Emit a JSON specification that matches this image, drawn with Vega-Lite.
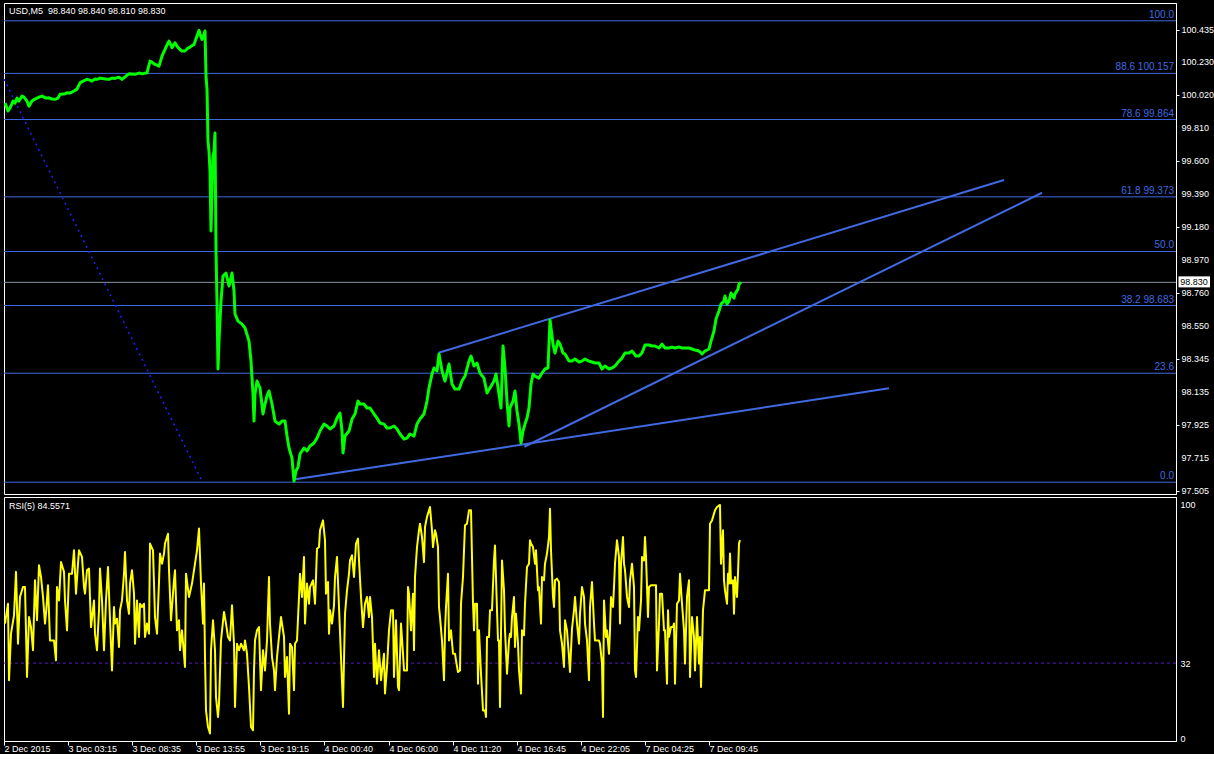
{
  "$schema": "https://vega.github.io/schema/vega-lite/v6.json",
  "background": "#000000",
  "padding": {"left": 2, "top": 2, "right": 0, "bottom": 0},
  "spacing": 3,
  "bounds": "flush",
  "config": {
    "font": "Liberation Sans",
    "view": {"stroke": "#ffffff", "strokeWidth": 1, "fill": "#000000"},
    "axis": {"domainColor": "#ffffff", "tickColor": "#ffffff", "labelColor": "#ffffff", "labelFont": "Liberation Sans", "labelFontSize": 9, "grid": false, "labelOverlap": false}
  },
  "datasets": {
    "fib": [
      {"p": 100.491, "label": "100.0"},
      {"p": 100.157, "label": "88.6 100.157"},
      {"p": 99.864, "label": "78.6 99.864"},
      {"p": 99.373, "label": "61.8 99.373"},
      {"p": 99.026, "label": "50.0"},
      {"p": 98.683, "label": "38.2 98.683"},
      {"p": 98.253, "label": "23.6"},
      {"p": 97.561, "label": "0.0"}
    ],
    "pticks": [
      {"p": 97.505}, {"p": 97.715}, {"p": 97.925}, {"p": 98.135}, {"p": 98.345}, {"p": 98.55}, {"p": 98.76}, {"p": 98.97},
      {"p": 99.18}, {"p": 99.39}, {"p": 99.6}, {"p": 99.81}, {"p": 100.02}, {"p": 100.23}, {"p": 100.435}
    ],
    "trend": [
      {"i": 291.3, "p": 97.579, "i2": 885, "p2": 98.157},
      {"i": 434.7, "p": 98.383, "i2": 1000, "p2": 99.48},
      {"i": 520.3, "p": 97.786, "i2": 1038, "p2": 99.399}
    ],
    "fibtrend": [{"i": 0, "p": 100.121, "i2": 198, "p2": 97.568}],
    "price": [
      {"i":1,"p":99.968},{"i":4,"p":99.918},{"i":6,"p":99.937},{"i":9,"p":99.981},{"i":11,"p":99.968},{"i":13,"p":100.0},{"i":15,"p":99.981},{"i":18,"p":100.013},{"i":20,"p":100.006},{"i":23,"p":99.981},{"i":25,"p":99.949},{"i":28,"p":99.981},{"i":31,"p":99.994},{"i":35,"p":100.006},{"i":38,"p":100.013},{"i":42,"p":100.0},{"i":45,"p":100.002},{"i":48,"p":99.994},{"i":51,"p":99.992},{"i":54,"p":100.0},{"i":56,"p":100.024},{"i":60,"p":100.026},{"i":63,"p":100.034},{"i":66,"p":100.032},{"i":70,"p":100.045},{"i":73,"p":100.057},{"i":76,"p":100.097},{"i":79,"p":100.108},{"i":83,"p":100.119},{"i":86,"p":100.114},{"i":88,"p":100.108},{"i":91,"p":100.121},{"i":93,"p":100.119},{"i":96,"p":100.127},{"i":98,"p":100.125},{"i":102,"p":100.121},{"i":105,"p":100.119},{"i":108,"p":100.127},{"i":111,"p":100.125},{"i":115,"p":100.133},{"i":118,"p":100.119},{"i":122,"p":100.14},{"i":125,"p":100.154},{"i":128,"p":100.153},{"i":131,"p":100.151},{"i":135,"p":100.159},{"i":138,"p":100.154},{"i":143,"p":100.161},{"i":146,"p":100.235},{"i":148,"p":100.229},{"i":150,"p":100.218},{"i":153,"p":100.21},{"i":155,"p":100.203},{"i":158,"p":100.267},{"i":161,"p":100.309},{"i":163,"p":100.337},{"i":165,"p":100.362},{"i":168,"p":100.32},{"i":171,"p":100.351},{"i":173,"p":100.33},{"i":176,"p":100.309},{"i":178,"p":100.299},{"i":181,"p":100.299},{"i":184,"p":100.318},{"i":186,"p":100.324},{"i":190,"p":100.341},{"i":193,"p":100.394},{"i":195,"p":100.43},{"i":197,"p":100.387},{"i":198,"p":100.373},{"i":200,"p":100.405},{"i":201,"p":100.426},{"i":202,"p":100.14},{"i":203,"p":100.057},{"i":204,"p":99.727},{"i":205,"p":99.664},{"i":206,"p":99.537},{"i":207,"p":99.156},{"i":208,"p":99.41},{"i":209,"p":99.632},{"i":210,"p":99.664},{"i":211,"p":99.778},{"i":212,"p":99.029},{"i":213,"p":98.711},{"i":214,"p":98.28},{"i":215,"p":98.457},{"i":216,"p":98.584},{"i":217,"p":98.711},{"i":219,"p":98.87},{"i":222,"p":98.889},{"i":225,"p":98.807},{"i":228,"p":98.889},{"i":230,"p":98.775},{"i":231,"p":98.629},{"i":234,"p":98.584},{"i":238,"p":98.565},{"i":241,"p":98.54},{"i":245,"p":98.457},{"i":247,"p":98.33},{"i":249,"p":98.121},{"i":250,"p":97.949},{"i":251,"p":98.121},{"i":253,"p":98.203},{"i":256,"p":98.159},{"i":259,"p":97.994},{"i":261,"p":98.057},{"i":263,"p":98.108},{"i":265,"p":98.14},{"i":268,"p":98.057},{"i":271,"p":97.949},{"i":275,"p":97.93},{"i":278,"p":97.949},{"i":281,"p":97.949},{"i":283,"p":97.854},{"i":285,"p":97.778},{"i":288,"p":97.714},{"i":290,"p":97.568},{"i":292,"p":97.632},{"i":294,"p":97.657},{"i":296,"p":97.74},{"i":298,"p":97.759},{"i":300,"p":97.778},{"i":303,"p":97.759},{"i":306,"p":97.791},{"i":310,"p":97.81},{"i":313,"p":97.841},{"i":316,"p":97.886},{"i":320,"p":97.93},{"i":323,"p":97.918},{"i":326,"p":97.899},{"i":330,"p":97.918},{"i":333,"p":97.968},{"i":336,"p":98.0},{"i":338,"p":97.886},{"i":339,"p":97.746},{"i":341,"p":97.854},{"i":345,"p":97.886},{"i":348,"p":97.962},{"i":351,"p":97.994},{"i":354,"p":98.076},{"i":356,"p":98.057},{"i":360,"p":98.057},{"i":363,"p":98.032},{"i":366,"p":98.032},{"i":370,"p":97.994},{"i":373,"p":97.968},{"i":376,"p":97.937},{"i":380,"p":97.93},{"i":383,"p":97.905},{"i":386,"p":97.905},{"i":390,"p":97.918},{"i":393,"p":97.899},{"i":396,"p":97.867},{"i":400,"p":97.835},{"i":403,"p":97.841},{"i":406,"p":97.867},{"i":410,"p":97.854},{"i":413,"p":97.93},{"i":416,"p":97.962},{"i":420,"p":97.994},{"i":423,"p":98.076},{"i":425,"p":98.159},{"i":428,"p":98.248},{"i":430,"p":98.286},{"i":433,"p":98.267},{"i":435,"p":98.375},{"i":438,"p":98.267},{"i":441,"p":98.203},{"i":445,"p":98.311},{"i":448,"p":98.184},{"i":451,"p":98.152},{"i":455,"p":98.152},{"i":458,"p":98.203},{"i":461,"p":98.235},{"i":465,"p":98.33},{"i":467,"p":98.362},{"i":470,"p":98.299},{"i":473,"p":98.318},{"i":476,"p":98.254},{"i":480,"p":98.222},{"i":483,"p":98.127},{"i":486,"p":98.159},{"i":490,"p":98.203},{"i":492,"p":98.248},{"i":495,"p":98.121},{"i":497,"p":98.032},{"i":499,"p":98.426},{"i":501,"p":98.286},{"i":503,"p":98.076},{"i":505,"p":97.918},{"i":506,"p":98.032},{"i":509,"p":98.076},{"i":511,"p":98.14},{"i":513,"p":98.013},{"i":515,"p":97.93},{"i":517,"p":97.81},{"i":519,"p":97.886},{"i":521,"p":97.93},{"i":523,"p":97.968},{"i":525,"p":98.032},{"i":527,"p":98.184},{"i":529,"p":98.248},{"i":531,"p":98.235},{"i":535,"p":98.222},{"i":538,"p":98.254},{"i":541,"p":98.28},{"i":544,"p":98.286},{"i":546,"p":98.591},{"i":549,"p":98.438},{"i":551,"p":98.381},{"i":554,"p":98.457},{"i":556,"p":98.438},{"i":559,"p":98.381},{"i":561,"p":98.375},{"i":565,"p":98.33},{"i":568,"p":98.33},{"i":571,"p":98.343},{"i":575,"p":98.324},{"i":578,"p":98.33},{"i":581,"p":98.343},{"i":585,"p":98.33},{"i":588,"p":98.324},{"i":591,"p":98.318},{"i":595,"p":98.318},{"i":598,"p":98.28},{"i":601,"p":98.299},{"i":605,"p":98.28},{"i":608,"p":98.286},{"i":611,"p":98.299},{"i":615,"p":98.33},{"i":618,"p":98.349},{"i":621,"p":98.381},{"i":625,"p":98.381},{"i":628,"p":98.394},{"i":632,"p":98.362},{"i":635,"p":98.362},{"i":638,"p":98.381},{"i":641,"p":98.432},{"i":645,"p":98.432},{"i":648,"p":98.426},{"i":651,"p":98.426},{"i":655,"p":98.413},{"i":658,"p":98.438},{"i":661,"p":98.413},{"i":665,"p":98.413},{"i":668,"p":98.419},{"i":671,"p":98.413},{"i":675,"p":98.419},{"i":678,"p":98.413},{"i":681,"p":98.413},{"i":685,"p":98.413},{"i":688,"p":98.407},{"i":691,"p":98.4},{"i":695,"p":98.394},{"i":698,"p":98.375},{"i":701,"p":98.394},{"i":705,"p":98.407},{"i":707,"p":98.457},{"i":710,"p":98.521},{"i":712,"p":98.597},{"i":715,"p":98.648},{"i":717,"p":98.692},{"i":720,"p":98.711},{"i":721,"p":98.743},{"i":723,"p":98.692},{"i":725,"p":98.711},{"i":727,"p":98.762},{"i":730,"p":98.73},{"i":731,"p":98.756},{"i":734,"p":98.787},{"i":735,"p":98.819},{"i":737,"p":98.83}
    ],
    "rsi": [
      {"i":1,"r":48.9},{"i":4,"r":57.4},{"i":5,"r":24.7},{"i":7,"r":44.6},{"i":10,"r":52.4},{"i":12,"r":71.0},{"i":14,"r":40.3},{"i":16,"r":60.3},{"i":19,"r":64.5},{"i":21,"r":64.5},{"i":23,"r":26.1},{"i":25,"r":51.7},{"i":27,"r":47.4},{"i":29,"r":37.5},{"i":31,"r":67.4},{"i":33,"r":50.3},{"i":35,"r":73.8},{"i":37,"r":68.8},{"i":39,"r":60.3},{"i":41,"r":48.9},{"i":42,"r":53.1},{"i":44,"r":65.3},{"i":46,"r":41.7},{"i":48,"r":41.7},{"i":50,"r":41.7},{"i":52,"r":33.2},{"i":53,"r":64.5},{"i":55,"r":58.8},{"i":57,"r":75.2},{"i":60,"r":71.0},{"i":61,"r":58.8},{"i":63,"r":46.0},{"i":65,"r":70.2},{"i":68,"r":70.2},{"i":70,"r":80.2},{"i":72,"r":61.7},{"i":74,"r":74.5},{"i":75,"r":80.2},{"i":78,"r":77.4},{"i":80,"r":64.5},{"i":81,"r":61.7},{"i":83,"r":71.7},{"i":85,"r":72.4},{"i":87,"r":47.4},{"i":90,"r":58.8},{"i":91,"r":44.6},{"i":93,"r":37.5},{"i":95,"r":54.6},{"i":96,"r":72.4},{"i":98,"r":58.8},{"i":100,"r":37.5},{"i":102,"r":58.8},{"i":104,"r":73.1},{"i":106,"r":50.3},{"i":108,"r":28.9},{"i":110,"r":56.0},{"i":111,"r":48.9},{"i":113,"r":51.0},{"i":115,"r":38.9},{"i":116,"r":54.6},{"i":118,"r":58.8},{"i":120,"r":70.2},{"i":121,"r":79.5},{"i":123,"r":58.8},{"i":125,"r":53.1},{"i":126,"r":66.0},{"i":128,"r":71.7},{"i":130,"r":61.7},{"i":131,"r":40.3},{"i":133,"r":58.8},{"i":135,"r":43.2},{"i":136,"r":57.4},{"i":138,"r":56.0},{"i":140,"r":57.4},{"i":141,"r":43.2},{"i":143,"r":48.9},{"i":145,"r":44.6},{"i":146,"r":83.1},{"i":149,"r":80.2},{"i":150,"r":66.0},{"i":151,"r":51.7},{"i":153,"r":44.6},{"i":155,"r":66.7},{"i":156,"r":78.8},{"i":158,"r":74.5},{"i":160,"r":78.8},{"i":161,"r":83.1},{"i":164,"r":87.3},{"i":165,"r":71.7},{"i":167,"r":50.3},{"i":170,"r":67.4},{"i":171,"r":71.7},{"i":173,"r":46.0},{"i":175,"r":50.3},{"i":176,"r":37.5},{"i":178,"r":46.0},{"i":181,"r":30.4},{"i":182,"r":70.2},{"i":185,"r":60.3},{"i":188,"r":66.0},{"i":191,"r":74.5},{"i":193,"r":80.2},{"i":195,"r":89.5},{"i":197,"r":66.0},{"i":199,"r":48.9},{"i":200,"r":66.0},{"i":201,"r":34.6},{"i":202,"r":11.8},{"i":204,"r":4.7},{"i":206,"r":1.9},{"i":207,"r":37.5},{"i":209,"r":50.3},{"i":211,"r":37.5},{"i":212,"r":17.5},{"i":214,"r":9.0},{"i":215,"r":14.7},{"i":217,"r":41.7},{"i":220,"r":53.9},{"i":222,"r":48.9},{"i":224,"r":43.2},{"i":226,"r":41.7},{"i":228,"r":56.7},{"i":230,"r":40.3},{"i":231,"r":13.3},{"i":233,"r":40.3},{"i":235,"r":37.5},{"i":237,"r":40.3},{"i":240,"r":37.5},{"i":241,"r":41.7},{"i":243,"r":36.0},{"i":245,"r":21.8},{"i":247,"r":4.7},{"i":249,"r":3.3},{"i":250,"r":28.9},{"i":251,"r":41.7},{"i":253,"r":46.0},{"i":255,"r":47.4},{"i":257,"r":20.4},{"i":259,"r":37.5},{"i":261,"r":28.9},{"i":263,"r":41.7},{"i":265,"r":68.8},{"i":266,"r":48.9},{"i":268,"r":34.6},{"i":270,"r":28.9},{"i":271,"r":20.4},{"i":273,"r":34.6},{"i":275,"r":43.2},{"i":277,"r":51.7},{"i":280,"r":43.2},{"i":281,"r":26.1},{"i":283,"r":34.6},{"i":285,"r":10.4},{"i":286,"r":40.3},{"i":288,"r":38.9},{"i":290,"r":20.4},{"i":291,"r":40.3},{"i":293,"r":41.7},{"i":295,"r":60.3},{"i":296,"r":70.2},{"i":298,"r":60.3},{"i":300,"r":77.4},{"i":301,"r":48.9},{"i":303,"r":66.0},{"i":305,"r":57.4},{"i":306,"r":64.5},{"i":309,"r":67.4},{"i":311,"r":57.4},{"i":312,"r":68.8},{"i":313,"r":80.9},{"i":315,"r":81.6},{"i":316,"r":88.8},{"i":319,"r":93.0},{"i":321,"r":84.5},{"i":322,"r":61.7},{"i":324,"r":66.7},{"i":325,"r":44.6},{"i":326,"r":54.6},{"i":328,"r":48.9},{"i":330,"r":56.7},{"i":331,"r":68.8},{"i":333,"r":77.4},{"i":335,"r":56.0},{"i":337,"r":34.6},{"i":339,"r":13.3},{"i":341,"r":53.1},{"i":343,"r":63.1},{"i":345,"r":70.2},{"i":346,"r":75.9},{"i":348,"r":78.1},{"i":350,"r":68.8},{"i":352,"r":83.1},{"i":354,"r":85.2},{"i":355,"r":75.9},{"i":357,"r":60.3},{"i":359,"r":47.4},{"i":361,"r":57.4},{"i":363,"r":60.3},{"i":365,"r":51.7},{"i":366,"r":60.3},{"i":368,"r":51.7},{"i":370,"r":26.1},{"i":371,"r":40.3},{"i":373,"r":23.2},{"i":375,"r":37.5},{"i":377,"r":24.7},{"i":380,"r":36.0},{"i":381,"r":19.0},{"i":383,"r":30.4},{"i":385,"r":46.0},{"i":387,"r":54.6},{"i":389,"r":54.6},{"i":390,"r":26.1},{"i":392,"r":50.3},{"i":394,"r":21.8},{"i":395,"r":20.4},{"i":397,"r":48.9},{"i":399,"r":36.0},{"i":400,"r":28.9},{"i":403,"r":28.9},{"i":404,"r":64.5},{"i":405,"r":61.7},{"i":407,"r":46.0},{"i":409,"r":61.7},{"i":410,"r":37.5},{"i":411,"r":68.8},{"i":413,"r":81.6},{"i":415,"r":88.8},{"i":416,"r":91.6},{"i":418,"r":85.9},{"i":420,"r":75.2},{"i":421,"r":90.2},{"i":423,"r":94.5},{"i":425,"r":97.3},{"i":426,"r":98.7},{"i":428,"r":88.8},{"i":429,"r":81.6},{"i":431,"r":88.8},{"i":432,"r":87.3},{"i":434,"r":81.6},{"i":435,"r":56.0},{"i":436,"r":51.7},{"i":438,"r":41.7},{"i":440,"r":24.7},{"i":441,"r":46.0},{"i":442,"r":56.0},{"i":444,"r":70.2},{"i":445,"r":41.7},{"i":447,"r":46.0},{"i":449,"r":36.0},{"i":451,"r":36.0},{"i":452,"r":33.2},{"i":454,"r":28.2},{"i":456,"r":28.9},{"i":457,"r":57.4},{"i":459,"r":68.8},{"i":460,"r":80.2},{"i":461,"r":90.9},{"i":463,"r":91.6},{"i":465,"r":97.3},{"i":467,"r":97.3},{"i":468,"r":77.4},{"i":469,"r":57.4},{"i":470,"r":46.0},{"i":471,"r":57.4},{"i":473,"r":57.4},{"i":474,"r":23.2},{"i":475,"r":46.0},{"i":477,"r":27.5},{"i":479,"r":11.8},{"i":481,"r":11.8},{"i":482,"r":9.0},{"i":483,"r":43.2},{"i":485,"r":43.2},{"i":486,"r":54.6},{"i":488,"r":54.6},{"i":490,"r":75.9},{"i":491,"r":82.3},{"i":493,"r":54.6},{"i":494,"r":41.7},{"i":495,"r":41.7},{"i":496,"r":13.3},{"i":498,"r":75.9},{"i":500,"r":63.1},{"i":501,"r":46.0},{"i":503,"r":27.5},{"i":505,"r":41.7},{"i":506,"r":44.6},{"i":507,"r":43.2},{"i":508,"r":51.7},{"i":510,"r":60.3},{"i":511,"r":38.9},{"i":512,"r":53.1},{"i":514,"r":40.3},{"i":515,"r":28.9},{"i":517,"r":19.0},{"i":518,"r":46.0},{"i":520,"r":43.9},{"i":521,"r":57.4},{"i":523,"r":73.1},{"i":525,"r":74.5},{"i":526,"r":84.5},{"i":527,"r":83.1},{"i":529,"r":81.6},{"i":531,"r":74.5},{"i":532,"r":80.2},{"i":534,"r":63.1},{"i":535,"r":64.5},{"i":537,"r":48.9},{"i":538,"r":68.8},{"i":540,"r":67.4},{"i":541,"r":74.5},{"i":543,"r":78.8},{"i":545,"r":85.9},{"i":546,"r":98.0},{"i":547,"r":80.2},{"i":549,"r":60.3},{"i":550,"r":56.0},{"i":551,"r":67.4},{"i":553,"r":68.1},{"i":555,"r":66.7},{"i":556,"r":46.0},{"i":558,"r":40.3},{"i":560,"r":30.4},{"i":561,"r":50.3},{"i":563,"r":46.0},{"i":565,"r":34.6},{"i":566,"r":28.2},{"i":568,"r":46.7},{"i":570,"r":54.6},{"i":571,"r":60.3},{"i":573,"r":48.9},{"i":575,"r":40.3},{"i":576,"r":53.1},{"i":578,"r":64.5},{"i":580,"r":60.3},{"i":581,"r":48.9},{"i":583,"r":41.7},{"i":585,"r":24.7},{"i":586,"r":56.0},{"i":588,"r":66.7},{"i":590,"r":48.9},{"i":591,"r":41.7},{"i":593,"r":41.7},{"i":595,"r":41.7},{"i":596,"r":40.3},{"i":598,"r":31.8},{"i":599,"r":9.0},{"i":600,"r":58.8},{"i":602,"r":43.2},{"i":603,"r":46.0},{"i":605,"r":36.0},{"i":606,"r":46.0},{"i":607,"r":60.3},{"i":609,"r":56.0},{"i":610,"r":64.5},{"i":611,"r":74.5},{"i":613,"r":84.5},{"i":615,"r":77.4},{"i":616,"r":48.9},{"i":617,"r":74.5},{"i":619,"r":85.9},{"i":620,"r":74.5},{"i":621,"r":71.7},{"i":623,"r":60.3},{"i":625,"r":56.0},{"i":626,"r":67.4},{"i":628,"r":74.5},{"i":630,"r":64.5},{"i":631,"r":28.9},{"i":632,"r":26.1},{"i":634,"r":51.7},{"i":635,"r":46.0},{"i":637,"r":58.8},{"i":638,"r":77.4},{"i":640,"r":75.9},{"i":641,"r":85.9},{"i":642,"r":77.4},{"i":644,"r":51.7},{"i":645,"r":64.5},{"i":647,"r":65.3},{"i":650,"r":65.3},{"i":652,"r":65.3},{"i":653,"r":28.9},{"i":655,"r":48.9},{"i":656,"r":61.7},{"i":658,"r":61.7},{"i":660,"r":46.0},{"i":661,"r":46.0},{"i":663,"r":23.2},{"i":664,"r":54.6},{"i":665,"r":43.2},{"i":667,"r":47.4},{"i":669,"r":47.4},{"i":670,"r":48.9},{"i":671,"r":23.2},{"i":673,"r":57.4},{"i":675,"r":58.8},{"i":676,"r":70.2},{"i":678,"r":57.4},{"i":680,"r":46.0},{"i":681,"r":31.8},{"i":683,"r":60.3},{"i":685,"r":67.4},{"i":686,"r":26.1},{"i":688,"r":51.7},{"i":690,"r":43.2},{"i":691,"r":28.9},{"i":693,"r":51.7},{"i":695,"r":31.8},{"i":696,"r":43.2},{"i":697,"r":21.8},{"i":699,"r":54.6},{"i":701,"r":63.1},{"i":703,"r":63.1},{"i":705,"r":63.1},{"i":706,"r":91.6},{"i":708,"r":93.0},{"i":710,"r":95.9},{"i":711,"r":97.3},{"i":713,"r":98.7},{"i":715,"r":99.4},{"i":716,"r":99.6},{"i":717,"r":74.5},{"i":719,"r":88.8},{"i":720,"r":67.4},{"i":721,"r":63.1},{"i":723,"r":57.4},{"i":724,"r":70.2},{"i":725,"r":66.0},{"i":726,"r":78.8},{"i":727,"r":66.0},{"i":729,"r":67.4},{"i":730,"r":53.1},{"i":731,"r":68.8},{"i":733,"r":60.3},{"i":734,"r":70.2},{"i":735,"r":83.1},{"i":736,"r":84.56}
    ]
  },
  "vconcat": [
    {
      "width": 1172,
      "height": 491,
      "layer": [
        {
          "data": {"name": "fib"},
          "mark": {"type": "rule", "color": "#4169E1", "strokeWidth": 1},
          "encoding": {
            "y": {"field": "p", "type": "quantitative", "scale": {"domain": [97.486, 100.604], "nice": false, "zero": false},
              "axis": {"orient": "right", "title": null, "values": [97.505, 97.715, 97.925, 98.135, 98.345, 98.55, 98.76, 98.97, 99.18, 99.39, 99.6, 99.81, 100.02, 100.23, 100.435], "labels": false, "tickSize": 3}}
          }
        },
        {
          "data": {"name": "fib"},
          "mark": {"type": "text", "color": "#4169E1", "align": "right", "baseline": "middle", "dy": -6, "fontSize": 10, "font": "Liberation Sans"},
          "encoding": {
            "x": {"datum": 1170, "type": "quantitative", "scale": {"domain": [0, 1172], "nice": false, "zero": false}, "axis": null},
            "y": {"field": "p", "type": "quantitative", "scale": {"domain": [97.486, 100.604], "nice": false, "zero": false}},
            "text": {"field": "label"}
          }
        },
        {
          "data": {"name": "pticks"},
          "mark": {"type": "text", "color": "#ffffff", "align": "left", "baseline": "middle", "fontSize": 9, "font": "Liberation Sans"},
          "encoding": {
            "x": {"datum": 1177.5, "type": "quantitative", "scale": {"domain": [0, 1172], "nice": false, "zero": false}},
            "y": {"field": "p", "type": "quantitative", "scale": {"domain": [97.486, 100.604], "nice": false, "zero": false}},
            "text": {"field": "p", "format": ".3f"}
          }
        },
        {
          "data": {"values": [{"p": 98.83}]},
          "mark": {"type": "rule", "color": "#8a94a6", "strokeWidth": 1},
          "encoding": {
            "y": {"field": "p", "type": "quantitative", "scale": {"domain": [97.486, 100.604], "nice": false, "zero": false}}
          }
        },
        {
          "data": {"name": "fibtrend"},
          "mark": {"type": "rule", "color": "#2020ff", "strokeWidth": 1.5, "strokeDash": [2, 4]},
          "encoding": {
            "x": {"field": "i", "type": "quantitative", "scale": {"domain": [0, 1172], "nice": false, "zero": false}},
            "x2": {"field": "i2"},
            "y": {"field": "p", "type": "quantitative", "scale": {"domain": [97.486, 100.604], "nice": false, "zero": false}},
            "y2": {"field": "p2"}
          }
        },
        {
          "data": {"name": "trend"},
          "mark": {"type": "rule", "color": "#4169E1", "strokeWidth": 2},
          "encoding": {
            "x": {"field": "i", "type": "quantitative", "scale": {"domain": [0, 1172], "nice": false, "zero": false}},
            "x2": {"field": "i2"},
            "y": {"field": "p", "type": "quantitative", "scale": {"domain": [97.486, 100.604], "nice": false, "zero": false}},
            "y2": {"field": "p2"}
          }
        },
        {
          "data": {"name": "price"},
          "mark": {"type": "line", "color": "#00ff00", "strokeWidth": 3, "strokeJoin": "round", "clip": true},
          "encoding": {
            "x": {"field": "i", "type": "quantitative", "scale": {"domain": [0, 1172], "nice": false, "zero": false}},
            "y": {"field": "p", "type": "quantitative", "scale": {"domain": [97.486, 100.604], "nice": false, "zero": false}}
          }
        },
        {
          "data": {"values": [{"t": "USD,M5\u00a0 98.840 98.840 98.810 98.830"}]},
          "mark": {"type": "text", "color": "#ffffff", "align": "left", "baseline": "middle", "fontSize": 9, "font": "Liberation Sans"},
          "encoding": {
            "x": {"datum": 5, "type": "quantitative", "scale": {"domain": [0, 1172], "nice": false, "zero": false}},
            "y": {"datum": 100.555, "type": "quantitative", "scale": {"domain": [97.486, 100.604], "nice": false, "zero": false}},
            "text": {"field": "t"}
          }
        },
        {
          "data": {"values": [{"p": 98.83, "t": "98.830"}]},
          "mark": {"type": "rect", "color": "#ffffff"},
          "encoding": {
            "x": {"datum": 1174.5, "type": "quantitative", "scale": {"domain": [0, 1172], "nice": false, "zero": false}},
            "x2": {"datum": 1206},
            "y": {"datum": 98.868, "type": "quantitative", "scale": {"domain": [97.486, 100.604], "nice": false, "zero": false}},
            "y2": {"datum": 98.798}
          }
        },
        {
          "data": {"values": [{"p": 98.83, "t": "98.830"}]},
          "mark": {"type": "text", "color": "#000000", "align": "center", "baseline": "middle", "fontSize": 9, "font": "Liberation Sans"},
          "encoding": {
            "x": {"datum": 1190, "type": "quantitative", "scale": {"domain": [0, 1172], "nice": false, "zero": false}},
            "y": {"field": "p", "type": "quantitative", "scale": {"domain": [97.486, 100.604], "nice": false, "zero": false}},
            "text": {"field": "t"}
          }
        }
      ]
    },
    {
      "width": 1172,
      "height": 244,
      "layer": [
        {
          "data": {"values": [{"r": 32}]},
          "mark": {"type": "rule", "color": "#5a14c8", "strokeWidth": 1, "strokeDash": [3, 3]},
          "encoding": {
            "y": {"field": "r", "type": "quantitative", "scale": {"domain": [-1.28, 103.0], "nice": false, "zero": false},
              "axis": {"orient": "right", "title": null, "values": [0, 32, 100], "ticks": false, "labelPadding": 4, "labelOverlap": false}}
          }
        },
        {
          "data": {"name": "rsi"},
          "mark": {"type": "line", "color": "#ffff00", "strokeWidth": 2, "strokeJoin": "round", "clip": true},
          "encoding": {
            "x": {"field": "i", "type": "quantitative", "scale": {"domain": [0, 1172], "nice": false, "zero": false},
              "axis": {"orient": "bottom", "title": null, "values": [0, 64, 128, 192, 256, 320, 385, 449, 513, 577, 641, 705],
                "labelExpr": "['2 Dec 2015','3 Dec 03:15','3 Dec 08:35','3 Dec 13:55','3 Dec 19:15','4 Dec 00:40','4 Dec 06:00','4 Dec 11:20','4 Dec 16:45','4 Dec 22:05','7 Dec 04:25','7 Dec 09:45'][round(datum.value/64.1)]",
                "labelAlign": "left", "labelBaseline": "middle", "labelFlush": false, "labelOverlap": false, "tickSize": 4, "labelPadding": 3}},
            "y": {"field": "r", "type": "quantitative", "scale": {"domain": [-1.28, 103.0], "nice": false, "zero": false}}
          }
        },
        {
          "data": {"values": [{"t": "RSI(5) 84.5571"}]},
          "mark": {"type": "text", "color": "#ffffff", "align": "left", "baseline": "middle", "fontSize": 9, "font": "Liberation Sans"},
          "encoding": {
            "x": {"datum": 5, "type": "quantitative", "scale": {"domain": [0, 1172], "nice": false, "zero": false}},
            "y": {"datum": 99.3, "type": "quantitative", "scale": {"domain": [-1.28, 103.0], "nice": false, "zero": false}},
            "text": {"field": "t"}
          }
        }
      ]
    }
  ]
}
